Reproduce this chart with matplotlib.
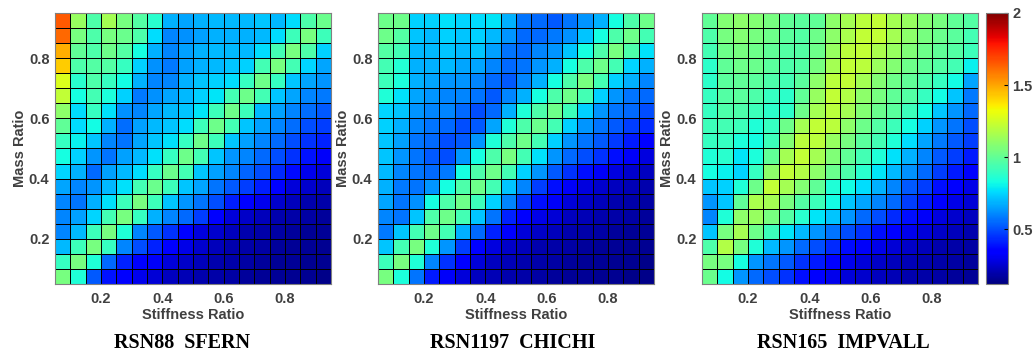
import numpy as np
import matplotlib
matplotlib.use("Agg")
import matplotlib.pyplot as plt

# cell edges (stiffness ratio / mass ratio)
edges = np.arange(0.05, 0.951, 0.05)
ticks = [0.2, 0.4, 0.6, 0.8]
cbar_ticks = [0.5, 1, 1.5, 2]
titles = ["RSN88  SFERN", "RSN1197  CHICHI", "RSN165  IMPVALL"]

# rows listed top (mass ratio 0.9) to bottom (0.05)
sfern = [
    [1.65, 1.12, 0.95, 1.15, 1.05, 0.97, 0.87, 0.68, 0.66, 0.68, 0.70, 0.70, 0.70, 0.72, 0.70, 0.76, 0.95, 1.02],
    [1.62, 1.05, 0.95, 1.05, 1.02, 0.95, 0.76, 0.60, 0.62, 0.65, 0.68, 0.68, 0.68, 0.70, 0.76, 0.92, 1.05, 0.92],
    [1.48, 1.00, 0.95, 1.03, 0.97, 0.83, 0.68, 0.60, 0.65, 0.68, 0.70, 0.70, 0.70, 0.76, 0.93, 1.05, 0.95, 0.74],
    [1.42, 0.95, 0.97, 0.97, 0.90, 0.74, 0.62, 0.58, 0.65, 0.68, 0.70, 0.72, 0.74, 0.93, 1.05, 0.93, 0.75, 0.66],
    [1.28, 0.87, 0.95, 0.90, 0.82, 0.68, 0.60, 0.60, 0.68, 0.72, 0.74, 0.76, 0.90, 1.03, 0.90, 0.72, 0.66, 0.63],
    [1.22, 0.83, 0.93, 0.84, 0.74, 0.58, 0.62, 0.66, 0.70, 0.74, 0.78, 0.93, 1.03, 0.93, 0.72, 0.66, 0.60, 0.58],
    [1.10, 0.76, 0.90, 0.77, 0.62, 0.60, 0.66, 0.70, 0.72, 0.78, 0.92, 1.03, 0.92, 0.70, 0.65, 0.60, 0.56, 0.52],
    [1.00, 0.76, 0.82, 0.68, 0.56, 0.65, 0.70, 0.72, 0.76, 0.92, 1.03, 0.93, 0.72, 0.65, 0.60, 0.56, 0.50, 0.47],
    [0.90, 0.80, 0.72, 0.60, 0.57, 0.66, 0.72, 0.77, 0.90, 1.03, 0.92, 0.72, 0.65, 0.60, 0.55, 0.50, 0.45, 0.42],
    [0.83, 0.74, 0.63, 0.57, 0.65, 0.70, 0.77, 0.90, 1.03, 0.93, 0.72, 0.63, 0.60, 0.55, 0.50, 0.45, 0.39, 0.32],
    [0.75, 0.68, 0.55, 0.65, 0.70, 0.76, 0.90, 1.02, 0.93, 0.72, 0.65, 0.60, 0.54, 0.50, 0.43, 0.37, 0.30, 0.27],
    [0.66, 0.60, 0.63, 0.70, 0.77, 0.93, 1.02, 0.92, 0.72, 0.66, 0.57, 0.52, 0.47, 0.41, 0.33, 0.27, 0.25, 0.22],
    [0.60, 0.57, 0.68, 0.77, 0.92, 1.05, 0.92, 0.72, 0.63, 0.57, 0.50, 0.41, 0.35, 0.30, 0.25, 0.22, 0.20, 0.19],
    [0.60, 0.65, 0.75, 0.93, 1.05, 0.90, 0.68, 0.60, 0.55, 0.47, 0.35, 0.27, 0.24, 0.22, 0.20, 0.19, 0.18, 0.17],
    [0.60, 0.70, 0.92, 1.05, 0.85, 0.60, 0.52, 0.45, 0.36, 0.28, 0.25, 0.22, 0.20, 0.19, 0.18, 0.17, 0.16, 0.16],
    [0.70, 0.92, 1.05, 0.90, 0.60, 0.50, 0.42, 0.35, 0.29, 0.25, 0.22, 0.20, 0.19, 0.18, 0.17, 0.16, 0.16, 0.15],
    [0.90, 1.05, 0.85, 0.55, 0.42, 0.35, 0.32, 0.27, 0.24, 0.22, 0.20, 0.19, 0.18, 0.17, 0.16, 0.16, 0.15, 0.15],
    [1.05, 0.85, 0.52, 0.39, 0.35, 0.30, 0.26, 0.23, 0.21, 0.20, 0.19, 0.18, 0.17, 0.16, 0.16, 0.15, 0.15, 0.14],
]

chichi = [
    [1.03, 1.03, 0.74, 0.74, 0.77, 0.75, 0.76, 0.78, 0.68, 0.57, 0.55, 0.52, 0.57, 0.63, 0.68, 0.83, 0.95, 1.03],
    [1.03, 0.97, 0.72, 0.70, 0.74, 0.72, 0.74, 0.70, 0.63, 0.55, 0.55, 0.58, 0.62, 0.72, 0.83, 0.95, 1.03, 0.93],
    [0.97, 0.93, 0.70, 0.70, 0.72, 0.70, 0.72, 0.65, 0.57, 0.55, 0.60, 0.63, 0.72, 0.83, 0.95, 1.05, 0.95, 0.77],
    [0.93, 0.86, 0.68, 0.68, 0.70, 0.66, 0.66, 0.60, 0.55, 0.57, 0.63, 0.68, 0.83, 0.95, 1.03, 0.93, 0.75, 0.68],
    [0.92, 0.84, 0.68, 0.66, 0.63, 0.63, 0.60, 0.55, 0.52, 0.60, 0.68, 0.83, 0.95, 1.05, 0.93, 0.74, 0.68, 0.60],
    [0.85, 0.77, 0.66, 0.63, 0.60, 0.60, 0.57, 0.52, 0.60, 0.68, 0.83, 0.95, 1.03, 0.93, 0.74, 0.63, 0.57, 0.55],
    [0.75, 0.72, 0.63, 0.60, 0.60, 0.55, 0.50, 0.55, 0.68, 0.85, 0.95, 1.03, 0.92, 0.74, 0.63, 0.57, 0.55, 0.50],
    [0.74, 0.68, 0.60, 0.57, 0.55, 0.50, 0.52, 0.66, 0.85, 0.95, 1.02, 0.93, 0.74, 0.63, 0.57, 0.52, 0.47, 0.43],
    [0.72, 0.65, 0.57, 0.55, 0.50, 0.52, 0.63, 0.85, 0.95, 1.03, 0.93, 0.74, 0.63, 0.57, 0.52, 0.46, 0.40, 0.35],
    [0.72, 0.63, 0.57, 0.52, 0.50, 0.63, 0.83, 0.95, 1.05, 0.93, 0.77, 0.63, 0.55, 0.50, 0.45, 0.38, 0.32, 0.28],
    [0.70, 0.60, 0.57, 0.55, 0.58, 0.83, 0.95, 1.03, 0.93, 0.74, 0.63, 0.52, 0.45, 0.38, 0.32, 0.28, 0.25, 0.23],
    [0.68, 0.58, 0.57, 0.63, 0.83, 0.95, 1.03, 0.93, 0.72, 0.60, 0.47, 0.38, 0.32, 0.28, 0.25, 0.23, 0.21, 0.20],
    [0.66, 0.57, 0.62, 0.83, 0.95, 1.03, 0.92, 0.74, 0.60, 0.47, 0.38, 0.32, 0.27, 0.24, 0.22, 0.20, 0.19, 0.18],
    [0.60, 0.57, 0.72, 0.95, 1.03, 0.93, 0.72, 0.57, 0.42, 0.34, 0.29, 0.26, 0.23, 0.21, 0.20, 0.19, 0.18, 0.17],
    [0.58, 0.72, 0.93, 1.03, 0.93, 0.68, 0.55, 0.42, 0.34, 0.27, 0.24, 0.22, 0.20, 0.19, 0.18, 0.17, 0.16, 0.16],
    [0.72, 0.93, 1.05, 0.85, 0.63, 0.47, 0.35, 0.28, 0.24, 0.22, 0.20, 0.19, 0.18, 0.17, 0.16, 0.16, 0.15, 0.15],
    [0.92, 1.05, 0.85, 0.60, 0.45, 0.35, 0.27, 0.23, 0.21, 0.20, 0.19, 0.18, 0.17, 0.16, 0.16, 0.15, 0.15, 0.14],
    [1.05, 0.84, 0.57, 0.40, 0.32, 0.27, 0.23, 0.21, 0.20, 0.19, 0.18, 0.17, 0.16, 0.16, 0.15, 0.15, 0.14, 0.14],
]

impvall = [
    [1.00, 1.08, 1.10, 1.08, 1.05, 1.00, 0.98, 1.00, 1.10, 1.15, 1.20, 1.22, 1.15, 1.12, 1.08, 1.05, 1.00, 0.97],
    [0.95, 1.05, 1.08, 1.05, 1.03, 0.98, 0.97, 1.03, 1.10, 1.17, 1.22, 1.22, 1.15, 1.10, 1.05, 1.02, 0.98, 0.93],
    [0.93, 1.03, 1.05, 1.03, 1.00, 0.97, 0.97, 1.03, 1.12, 1.20, 1.22, 1.17, 1.12, 1.07, 1.03, 1.00, 0.97, 0.92],
    [0.88, 1.00, 1.03, 1.02, 0.98, 0.95, 0.97, 1.05, 1.15, 1.22, 1.20, 1.13, 1.08, 1.03, 1.00, 0.97, 0.93, 0.80],
    [0.88, 0.98, 1.00, 0.98, 0.95, 0.93, 0.98, 1.10, 1.20, 1.22, 1.15, 1.08, 1.03, 1.00, 0.95, 0.90, 0.82, 0.66],
    [0.90, 0.97, 0.98, 0.95, 0.90, 0.88, 1.00, 1.12, 1.22, 1.18, 1.10, 1.05, 1.00, 0.97, 0.90, 0.82, 0.72, 0.58],
    [0.90, 0.95, 0.95, 0.92, 0.88, 0.88, 1.03, 1.15, 1.20, 1.15, 1.08, 1.02, 0.98, 0.92, 0.83, 0.72, 0.63, 0.55],
    [0.92, 0.93, 0.92, 0.85, 0.90, 1.03, 1.15, 1.22, 1.20, 1.10, 1.03, 0.97, 0.92, 0.83, 0.74, 0.63, 0.57, 0.50],
    [0.90, 0.90, 0.84, 0.82, 0.92, 1.08, 1.20, 1.20, 1.12, 1.05, 0.98, 0.93, 0.85, 0.76, 0.66, 0.58, 0.52, 0.47],
    [0.85, 0.87, 0.78, 0.84, 1.00, 1.15, 1.22, 1.15, 1.07, 1.00, 0.93, 0.85, 0.77, 0.68, 0.60, 0.52, 0.47, 0.40],
    [0.83, 0.80, 0.75, 0.90, 1.10, 1.22, 1.18, 1.10, 1.02, 0.95, 0.87, 0.78, 0.70, 0.62, 0.55, 0.47, 0.40, 0.35],
    [0.72, 0.74, 0.85, 1.03, 1.22, 1.15, 1.08, 1.00, 0.85, 0.82, 0.76, 0.68, 0.60, 0.52, 0.47, 0.38, 0.33, 0.29],
    [0.63, 0.72, 1.00, 1.17, 1.15, 1.05, 0.97, 0.92, 0.82, 0.72, 0.66, 0.60, 0.55, 0.47, 0.40, 0.34, 0.29, 0.26],
    [0.60, 0.85, 1.10, 1.12, 1.05, 0.97, 0.87, 0.78, 0.72, 0.63, 0.55, 0.50, 0.43, 0.38, 0.32, 0.28, 0.25, 0.23],
    [0.72, 1.05, 1.15, 1.03, 0.92, 0.78, 0.70, 0.63, 0.57, 0.50, 0.45, 0.38, 0.34, 0.30, 0.27, 0.24, 0.22, 0.20],
    [0.95, 1.18, 1.05, 0.85, 0.70, 0.63, 0.55, 0.50, 0.43, 0.37, 0.32, 0.29, 0.26, 0.24, 0.22, 0.20, 0.19, 0.18],
    [1.05, 1.05, 0.83, 0.63, 0.57, 0.52, 0.45, 0.40, 0.35, 0.30, 0.27, 0.24, 0.22, 0.21, 0.20, 0.19, 0.18, 0.17],
    [1.02, 0.82, 0.63, 0.55, 0.50, 0.45, 0.38, 0.34, 0.30, 0.27, 0.25, 0.23, 0.21, 0.20, 0.19, 0.18, 0.17, 0.16],
]

W, H = 1035, 355
fig = plt.figure(figsize=(W / 100, H / 100), dpi=100)

lefts = [55, 378, 702]
title_x = [182, 513, 843]
label_font = {"family": "Liberation Sans", "weight": "bold"}

for i, data in enumerate([sfern, chichi, impvall]):
    ax = fig.add_axes([lefts[i] / W, 71 / H, 276 / W, 271 / H])
    z = np.array(data)[::-1]
    mesh = ax.pcolormesh(edges, edges, z, cmap="jet", vmin=0.12, vmax=2,
                         edgecolors="black", linewidth=0.6)
    ax.set_xlim(0.05, 0.95)
    ax.set_ylim(0.05, 0.95)
    ax.set_xticks(ticks)
    ax.set_yticks(ticks)
    ax.set_xticklabels([f"{t:g}" for t in ticks], fontdict=label_font, fontsize=10.5, color="#404040")
    ax.set_yticklabels([f"{t:g}" for t in ticks], fontdict=label_font, fontsize=10.5, color="#404040")
    ax.tick_params(axis="x", length=0, pad=6)
    ax.tick_params(axis="y", length=0, pad=4)
    for s in ax.spines.values():
        s.set_color("#808080")
        s.set_linewidth(0.8)
    ax.set_xlabel("Stiffness Ratio", fontdict=label_font, fontsize=10.5, color="#404040", labelpad=1)
    ax.set_ylabel("Mass Ratio", fontdict=label_font, fontsize=10.5, color="#404040", labelpad=1)
    fig.text(title_x[i] / W, 1 - 343 / H, titles[i], ha="center", va="center",
             family="Liberation Serif", weight="bold", fontsize=14.5)

cax = fig.add_axes([986 / W, 71 / H, 22 / W, 271 / H])
cb = fig.colorbar(mesh, cax=cax, ticks=cbar_ticks)
cb.ax.set_yticklabels([f"{t:g}" for t in cbar_ticks], fontdict=label_font, fontsize=10.5, color="#404040")
cb.ax.tick_params(length=3, direction="in", pad=3)
cb.outline.set_edgecolor("#808080")

fig.savefig("out.png", dpi=100)
